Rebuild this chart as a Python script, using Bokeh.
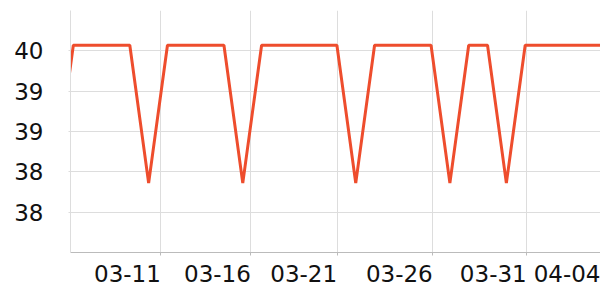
import pandas as pd
from bokeh.plotting import figure
from bokeh.models import FixedTicker, NumeralTickFormatter, Range1d
from bokeh.embed import file_html
from bokeh.resources import INLINE

# daily samples, 2024-03-06 .. 2024-04-04
dates = pd.date_range("2024-03-06", "2024-04-04", freq="D")
values = [38.16,
          39.87, 39.87, 39.87, 39.87, 38.16,
          39.87, 39.87, 39.87, 39.87, 38.16,
          39.87, 39.87, 39.87, 39.87, 39.87, 38.16,
          39.87, 39.87, 39.87, 39.87, 38.16,
          39.87, 39.87, 38.16,
          39.87, 39.87, 39.87, 39.87, 39.87]

# x tick labels and where they sit (days after 03-07)
x_tick_labels = ["03-11", "03-16", "03-21", "03-26", "03-31", "04-04"]
x_tick_days = [4.65, 9.43, 14.01, 19.09, 24.08, 28.0]
y_ticks = [37.8, 38.3, 38.8, 39.3, 39.8]

base = pd.Timestamp("2024-03-07")
x = [(d - base) / pd.Timedelta(days=1) for d in dates]

p = figure(width=600, height=300, output_backend="svg", toolbar_location=None,
           x_range=Range1d(-0.15, 28.0), y_range=Range1d(37.3, 40.3),
           min_border_left=70, min_border_right=0, min_border_top=10,
           min_border_bottom=48)
p.outline_line_color = None
p.background_fill_color = "white"
p.border_fill_color = "white"

p.line(x, values, line_color="#ee4d2d", line_width=3)

font = "DejaVu Sans"
# x axis
p.xaxis.ticker = FixedTicker(ticks=x_tick_days)
p.xaxis.major_label_overrides = {t: l for t, l in zip(x_tick_days, x_tick_labels)}
p.xaxis.major_label_orientation = 1e-4
p.xaxis.major_label_text_font = font
p.xaxis.major_label_text_font_size = "23px"
p.xaxis.major_label_text_color = "#111"
p.xaxis.major_label_standoff = 18
p.xaxis.axis_line_color = "#bbbbbb"
p.xaxis.major_tick_line_color = "#bbbbbb"
p.xaxis.major_tick_out = 3
p.xaxis.major_tick_in = 0
p.xaxis.minor_tick_line_color = None

# y axis
p.yaxis.ticker = FixedTicker(ticks=y_ticks)
p.yaxis.formatter = NumeralTickFormatter(format="0")
p.yaxis.major_label_text_font = font
p.yaxis.major_label_text_font_size = "23px"
p.yaxis.major_label_text_color = "#111"
p.yaxis.major_label_standoff = 25
p.yaxis.axis_line_color = "#dddddd"
p.yaxis.major_tick_line_color = "#dddddd"
p.yaxis.major_tick_out = 2
p.yaxis.major_tick_in = 0
p.yaxis.minor_tick_line_color = None

p.xgrid.grid_line_color = "#dddddd"
p.ygrid.grid_line_color = "#dddddd"

open("out.html", "w").write(file_html(p, INLINE))
